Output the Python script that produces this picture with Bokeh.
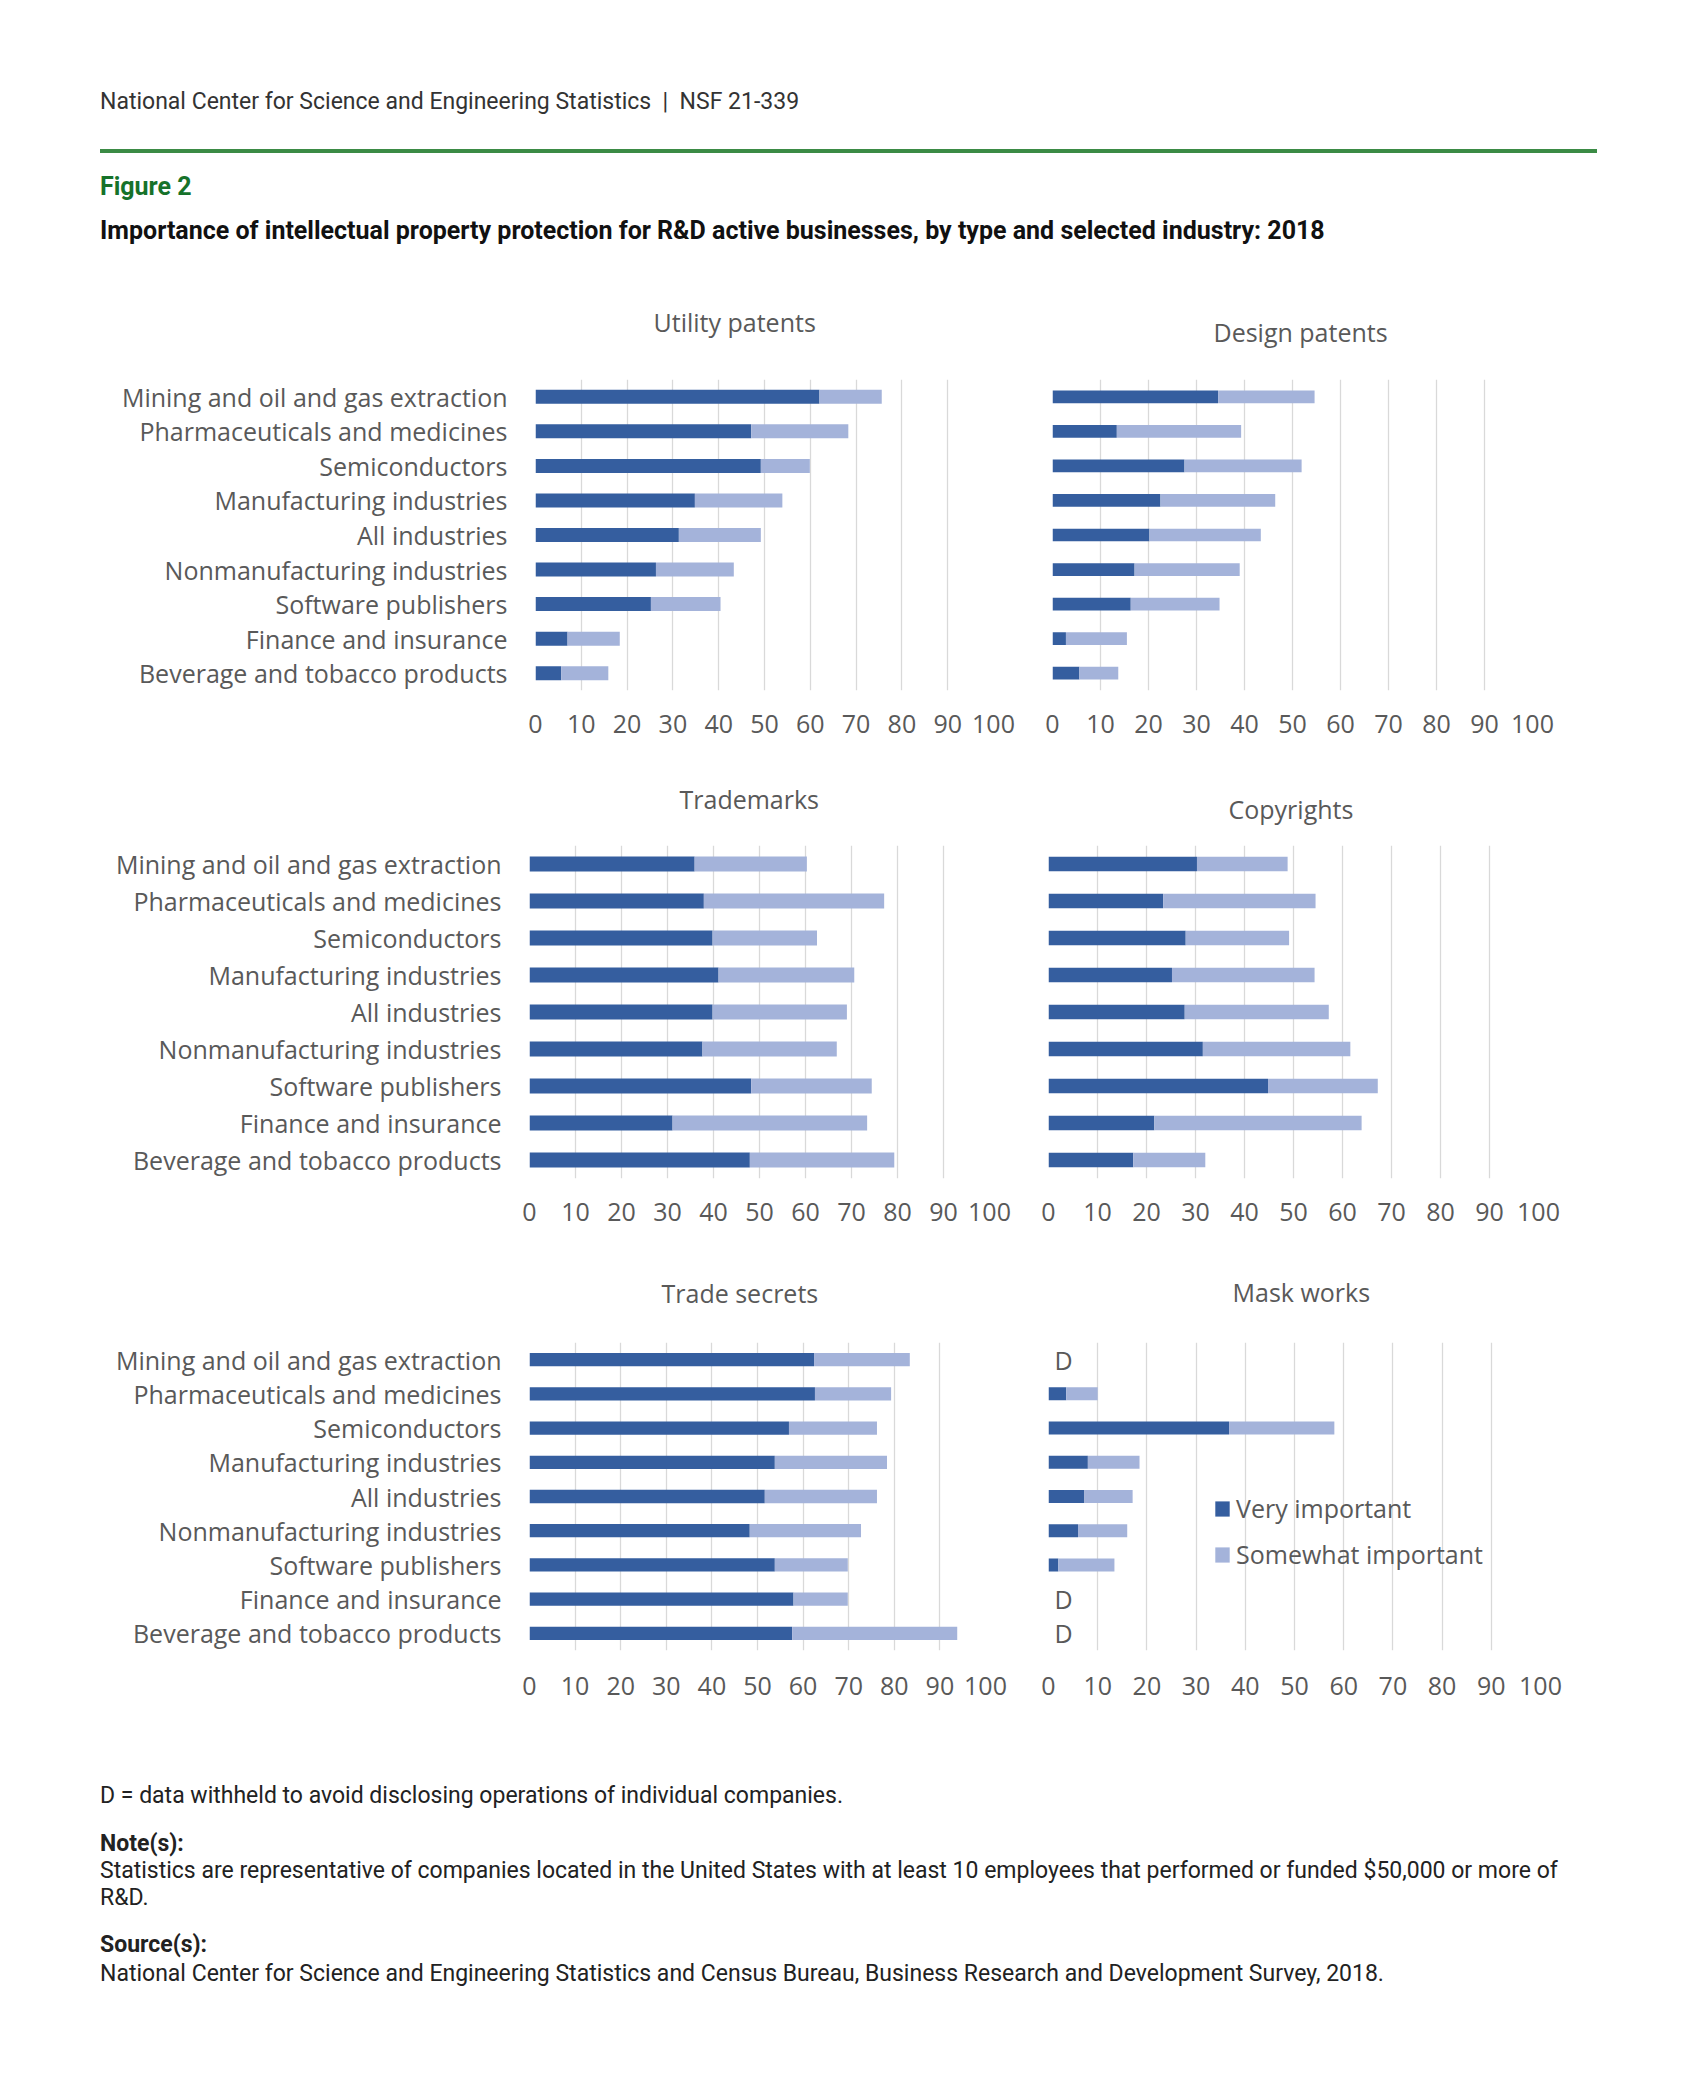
from bokeh.plotting import figure
from bokeh.models import (ColumnDataSource, FactorRange, Range1d, FixedTicker,
                          Legend, LegendItem, Div)
from bokeh.layouts import column, row
from bokeh.embed import file_html
from bokeh.resources import INLINE
from bokeh.core.properties import value

# ---------------- data ----------------
industries = [
    "Mining and oil and gas extraction",
    "Pharmaceuticals and medicines",
    "Semiconductors",
    "Manufacturing industries",
    "All industries",
    "Nonmanufacturing industries",
    "Software publishers",
    "Finance and insurance",
    "Beverage and tobacco products",
]
x_ticks = [0, 10, 20, 30, 40, 50, 60, 70, 80, 90, 100]
series_names = ["Very important", "Somewhat important"]

utility_very = [62.0, 47.1, 49.2, 34.8, 31.3, 26.3, 25.2, 7.0, 5.6]
utility_some = [13.6, 21.2, 10.7, 19.1, 17.9, 17.0, 15.2, 11.4, 10.3]

design_very = [34.5, 13.4, 27.5, 22.5, 20.2, 17.1, 16.3, 2.8, 5.6]
design_some = [20.1, 25.9, 24.4, 23.9, 23.2, 21.9, 18.5, 12.7, 8.1]

trademark_very = [35.9, 37.9, 39.8, 41.1, 39.8, 37.6, 48.2, 31.1, 47.9]
trademark_some = [24.4, 39.2, 22.7, 29.5, 29.2, 29.2, 26.2, 42.3, 31.4]

copyright_very = [30.3, 23.4, 28.0, 25.2, 27.8, 31.5, 44.8, 21.6, 17.3]
copyright_some = [18.5, 31.1, 21.1, 29.1, 29.4, 30.1, 22.4, 42.3, 14.7]

secret_very = [62.4, 62.6, 56.9, 53.8, 51.6, 48.3, 53.8, 57.9, 57.6]
secret_some = [21.0, 16.7, 19.3, 24.6, 24.6, 24.4, 16.0, 11.9, 36.2]

mask_very = [None, 3.6, 36.7, 8.0, 7.3, 6.0, 2.0, None, None]
mask_some = [None, 6.4, 21.4, 10.5, 9.8, 10.0, 11.4, None, None]

# ---------------- style / layout ----------------
DARK = "#355E9F"
LIGHT = "#A4B3DA"
GRID = "#D9D9D9"
TXT = "#595959"
FONT = "Open Sans"
FS = "25px"

PAGE_W = 1700
R1, R2, R3, R4 = 256, 749, 1237, 1720
SPLIT = 1020


def make_panel(title, very, some, fx, fw, fy, fh, t_left, t_standoff, tick_standoff,
               fig_left, fig_right, row_top, row_bottom, show_labels, bar_px, legend=False):
    v = [0 if a is None else a for a in very]
    s = [0 if a is None else a for a in some]
    src = ColumnDataSource(dict(cat=industries, very=v, some=s))
    row_px = fh / len(industries)
    p = figure(y_range=FactorRange(factors=industries[::-1], range_padding=0),
               x_range=Range1d(0, 100),
               frame_width=fw, frame_height=fh,
               min_border_left=fx - fig_left, min_border_right=fig_right - (fx + fw),
               min_border_top=fy - row_top, min_border_bottom=row_bottom - (fy + fh),
               toolbar_location=None, output_backend="svg",
               outline_line_color=None, background_fill_color="white",
               border_fill_color="white")
    rs = p.hbar_stack(["very", "some"], y="cat", height=bar_px / row_px,
                      fill_color=[DARK, LIGHT], line_color=None, source=src)

    p.title.text = title
    p.title.align = "left"
    p.title.vertical_align = "bottom"
    p.title.offset = t_left - fx
    p.title.standoff = t_standoff
    p.title.text_font = FONT
    p.title.text_font_size = FS
    p.title.text_font_style = "normal"
    p.title.text_color = TXT

    p.xaxis.ticker = FixedTicker(ticks=x_ticks)
    p.xaxis.axis_line_color = None
    p.xaxis.major_tick_line_color = None
    p.xaxis.minor_tick_line_color = None
    p.xaxis.major_tick_out = 0
    p.xaxis.major_tick_in = 0
    p.xaxis.minor_tick_out = 0
    p.xaxis.major_label_text_font = FONT
    p.xaxis.major_label_text_font_size = FS
    p.xaxis.major_label_text_color = TXT
    p.xaxis.major_label_standoff = tick_standoff
    p.xgrid.grid_line_color = GRID
    p.xgrid.grid_line_width = 1.3
    p.ygrid.grid_line_color = None

    if show_labels:
        p.yaxis.axis_line_color = None
        p.yaxis.major_tick_line_color = None
        p.yaxis.minor_tick_line_color = None
        p.yaxis.major_tick_out = 0
        p.yaxis.major_tick_in = 0
        p.yaxis.major_label_text_font = FONT
        p.yaxis.major_label_text_font_size = FS
        p.yaxis.major_label_text_color = TXT
        p.yaxis.major_label_standoff = 28
    else:
        p.yaxis.visible = False

    d_cats = [c for c, a in zip(industries, very) if a is None]
    if d_cats:
        dsrc = ColumnDataSource(dict(cat=d_cats, x=[0] * len(d_cats), t=["D"] * len(d_cats)))
        p.text(x="x", y="cat", text="t", source=dsrc, x_offset=6,
               text_font=value(FONT), text_font_size=FS, text_color=TXT,
               text_baseline="middle", text_align="left")

    if legend:
        lg = Legend(items=[LegendItem(label=series_names[0], renderers=[rs[0]]),
                           LegendItem(label=series_names[1], renderers=[rs[1]])],
                    location=(165, 79), orientation="vertical",
                    glyph_width=18, glyph_height=19, label_standoff=5, spacing=12,
                    label_height=32, padding=0, margin=0, border_line_color=None,
                    background_fill_alpha=0, label_text_font=FONT,
                    label_text_font_size=FS, label_text_color=TXT)
        p.add_layout(lg)
    return p


L, RR = 0, PAGE_W
f1 = make_panel("Utility patents", utility_very, utility_some, 535, 458, 379, 311, 653, 81, 24,
                L, SPLIT, R1, R2, True, 14)
f2 = make_panel("Design patents", design_very, design_some, 1052, 480, 379, 311, 1213, 62, 24,
                SPLIT, RR, R1, R2, False, 12.7)
f3 = make_panel("Trademarks", trademark_very, trademark_some, 529, 460, 845, 333, 679, 59, 24,
                L, SPLIT, R2, R3, True, 15)
f4 = make_panel("Copyrights", copyright_very, copyright_some, 1048, 490, 845, 333, 1228, 40, 24,
                SPLIT, RR, R2, R3, False, 14.7)
f5 = make_panel("Trade secrets", secret_very, secret_some, 529, 456, 1342, 308, 661, 66, 26,
                L, SPLIT, R3, R4, True, 13.3)
f6 = make_panel("Mask works", mask_very, mask_some, 1048, 492, 1342, 308, 1232, 68, 26,
                SPLIT, RR, R3, R4, False, 13, legend=True)


def txt(x, base, s, size, weight="normal", color="#333333", top0=0):
    top = base - top0 - 0.84 * size
    return (f'<div style="position:absolute;left:{x}px;top:{top:.1f}px;'
            f'line-height:{size}px;font-size:{size}px;font-weight:{weight};color:{color};'
            f'white-space:nowrap;font-family:Roboto;">{s}</div>')


header_html = (
    f'<div style="position:relative;width:{PAGE_W}px;height:{R1}px;font-family:Roboto;">'
    + txt(100, 109, "National Center for Science and Engineering Statistics&nbsp;&nbsp;|&nbsp;&nbsp;NSF 21-339", 23, color="#333333")
    + '<div style="position:absolute;left:100px;top:149px;width:1497px;height:4px;background:#3B8B45;"></div>'
    + txt(100, 195, "Figure 2", 25, "bold", "#16722A")
    + txt(100, 239, "Importance of intellectual property protection for R&amp;D active businesses, by type and selected industry: 2018", 25, "bold", "#111111")
    + '</div>'
)
header = Div(text=header_html, width=PAGE_W, height=R1, margin=0)

foot_h = 320
FC = "#222222"
footer_html = (
    f'<div style="position:relative;width:{PAGE_W}px;height:{foot_h}px;font-family:Roboto;">'
    + txt(100, 1803, "D = data withheld to avoid disclosing operations of individual companies.", 23, color=FC, top0=R4)
    + txt(100, 1851, "Note(s):", 23, "bold", FC, top0=R4)
    + txt(100, 1878, "Statistics are representative of companies located in the United States with at least 10 employees that performed or funded $50,000 or more of", 23, color=FC, top0=R4)
    + txt(100, 1905, "R&amp;D.", 23, color=FC, top0=R4)
    + txt(100, 1952, "Source(s):", 23, "bold", FC, top0=R4)
    + txt(100, 1981, "National Center for Science and Engineering Statistics and Census Bureau, Business Research and Development Survey, 2018.", 23, color=FC, top0=R4)
    + '</div>'
)
footer = Div(text=footer_html, width=PAGE_W, height=foot_h, margin=0)

page = column(header, row(f1, f2, spacing=0), row(f3, f4, spacing=0), row(f5, f6, spacing=0),
              footer, spacing=0)

open("out.html", "w").write(file_html(page, INLINE))
